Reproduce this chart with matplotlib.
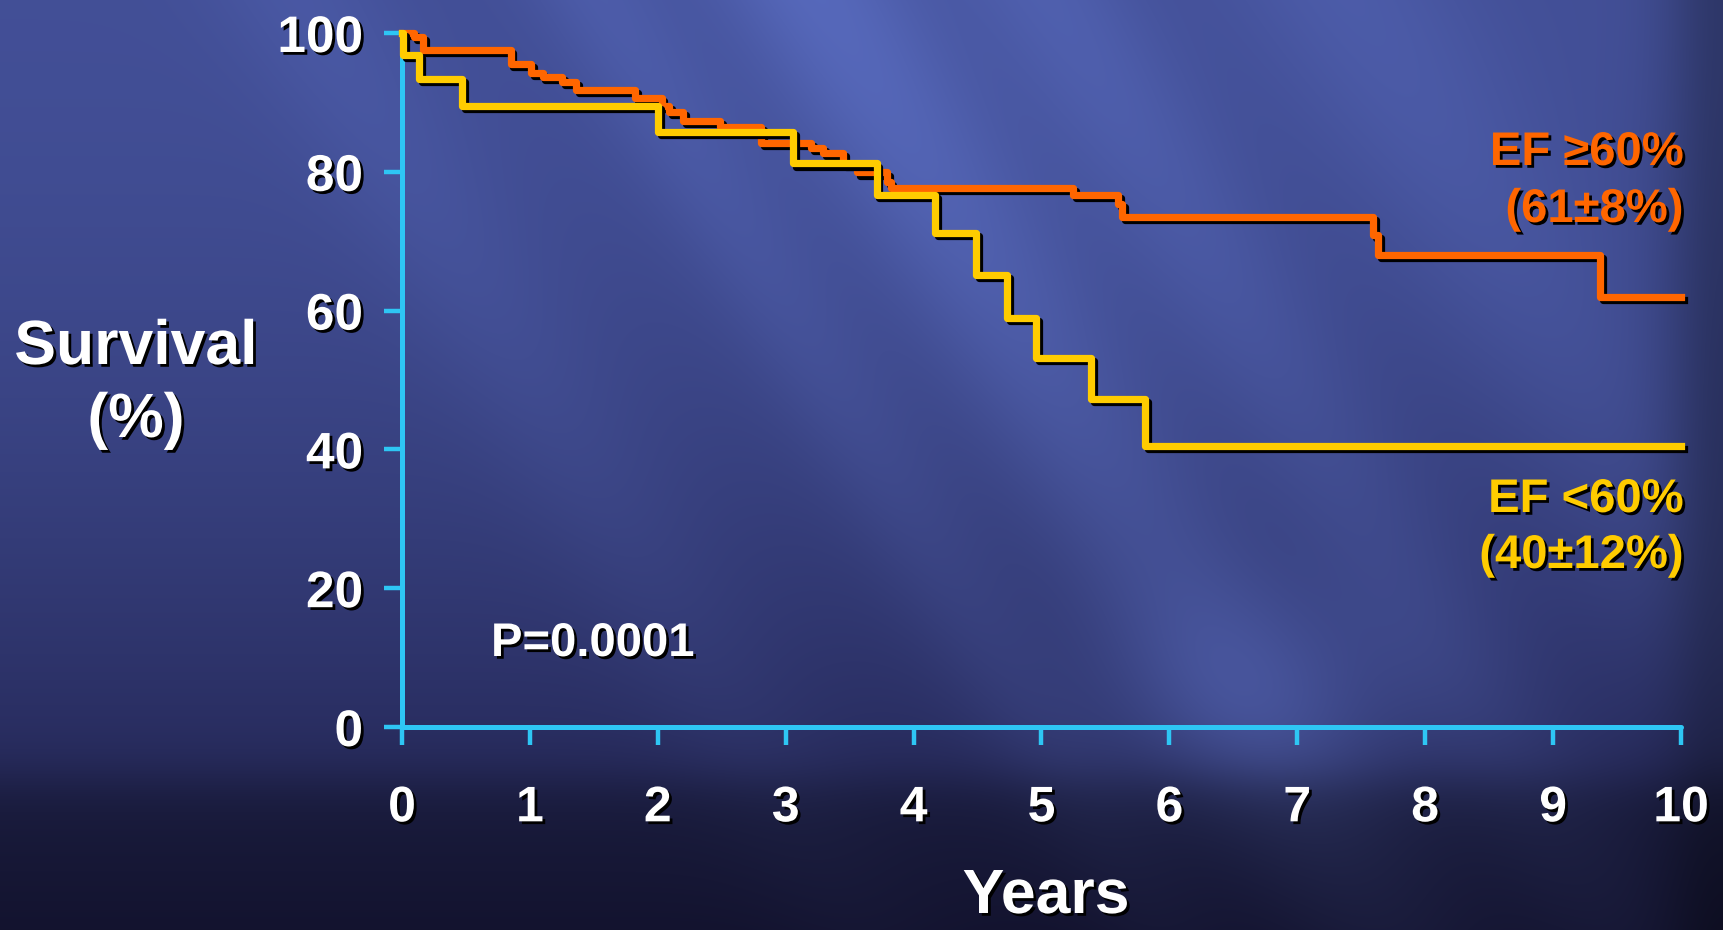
import numpy as np
import matplotlib.pyplot as plt
import matplotlib.patheffects as pe

plt.rcParams['font.family'] = ['Liberation Sans', 'DejaVu Sans']
plt.rcParams['font.weight'] = 'bold'

# Kaplan-Meier steps (years, survival %)
ef_high_years = [0, 0.093, 0.163, 0.85, 1.01, 1.10, 1.25, 1.36, 1.82, 2.03, 2.09, 2.20,
                 2.49, 2.81, 3.20, 3.29, 3.45, 3.56, 3.79, 3.82, 5.25, 5.60, 5.63,
                 7.59, 7.63, 9.37, 10]
ef_high_surv = [100, 99.4, 97.6, 95.6, 94.3, 93.6, 92.9, 91.8, 90.6, 89.5, 88.6, 87.3,
                86.5, 84.1, 83.4, 82.7, 81.1, 79.9, 78.6, 77.7, 76.6, 75.3, 73.5,
                70.9, 68.0, 62.0, 62.0]

ef_low_years = [0, 0.01, 0.135, 0.47, 2.0, 3.06, 3.71, 4.17, 4.49, 4.73, 4.96, 5.39, 5.81, 10]
ef_low_surv = [100, 96.8, 93.4, 89.5, 85.8, 81.2, 76.6, 71.2, 65.1, 59.0, 53.2, 47.2, 40.5, 40.5]

x_ticks = list(range(0, 11))
y_ticks = [0, 20, 40, 60, 80, 100]

ORANGE = '#ff6600'
YELLOW = '#ffcc00'
CYAN = '#2ec6f4'

W, H = 1724, 930
fig = plt.figure(figsize=(W / 100, H / 100), dpi=100)

# slide background: navy gradient with soft diagonal light streaks
yy, xx = np.mgrid[0:H, 0:W].astype(float)
t = yy / H
top = np.array([0.26, 0.31, 0.59])
bot = np.array([0.11, 0.11, 0.27])
img = top * (1 - t[..., None] ** 1.8) + bot * t[..., None] ** 1.8
u = xx - 0.6 * yy
for c, s, w in [(820, 0.14, 110), (600, 0.07, 70), (1050, 0.09, 90), (1350, 0.07, 120), (300, 0.05, 90)]:
    band = s * np.exp(-((u - c) / w) ** 2) * (1 - 0.5 * t)
    img += band[..., None] * np.array([0.55, 0.7, 1.0])
blob = 0.12 * np.exp(-(((xx - 1260) / 180) ** 2 + ((yy - 700) / 120) ** 2))
img += blob[..., None] * np.array([0.5, 0.65, 1.0])
dark = 1 / (1 + np.exp(-(yy - 780) / 15))
img *= (1 - 0.32 * dark)[..., None]
edge = np.exp(-((W - xx) / 60) ** 2)
img *= (1 - 0.3 * edge)[..., None]
img = np.clip(img, 0, 1)

bg = fig.add_axes([0, 0, 1, 1])
bg.imshow(img, aspect='auto', extent=[0, 1, 0, 1])
bg.axis('off')

left, right = 402 / W, 1681 / W
bottom, top_ = 1 - 727 / H, 1 - 33 / H
ax = fig.add_axes([left, bottom, right - left, top_ - bottom])
ax.patch.set_alpha(0)

line_fx = [pe.SimpleLineShadow(offset=(2, -2.2), shadow_color='black', alpha=1), pe.Normal()]
ax.step(ef_high_years, ef_high_surv, where='post', color=ORANGE, lw=5.2,
        clip_on=False, path_effects=line_fx, zorder=3)
ax.step(ef_low_years, ef_low_surv, where='post', color=YELLOW, lw=5.2,
        clip_on=False, path_effects=line_fx, zorder=4)

ax.set_xlim(0, 10)
ax.set_ylim(0, 100)
ax.set_xticks(x_ticks)
ax.set_yticks(y_ticks)
for side in ['top', 'right']:
    ax.spines[side].set_visible(False)
for side in ['left', 'bottom']:
    ax.spines[side].set_color(CYAN)
    ax.spines[side].set_linewidth(3.6)
    ax.spines[side].set_capstyle('round')
ax.tick_params(axis='both', colors=CYAN, width=3.2, length=13, direction='out')
ax.tick_params(axis='x', labelcolor='white', labelsize=36, pad=29)
ax.tick_params(axis='y', labelcolor='white', labelsize=37, pad=15)

txt_fx = [pe.withSimplePatchShadow(offset=(2, -2), shadow_rgbFace='black', alpha=1)]
for lab in ax.get_xticklabels() + ax.get_yticklabels():
    lab.set_fontweight('bold')
    lab.set_path_effects(txt_fx)

def ftext(px, py, s, color, size, ha='left'):
    fig.text(px / W, 1 - py / H, s, color=color, fontsize=size, fontweight='bold',
             ha=ha, va='baseline', path_effects=txt_fx)

ftext(136, 364, 'Survival', 'white', 45, ha='center')
ftext(136, 437, '(%)', 'white', 45, ha='center')
ftext(1046, 913, 'Years', 'white', 45, ha='center')
ftext(491, 656, 'P=0.0001', 'white', 34)
ftext(1684, 165, 'EF \u226560%', ORANGE, 34, ha='right')
ftext(1684, 222, '(61\u00b18%)', ORANGE, 34, ha='right')
ftext(1684, 512, 'EF <60%', YELLOW, 34, ha='right')
ftext(1684, 568, '(40\u00b112%)', YELLOW, 34, ha='right')

fig.savefig('out.png', dpi=100)
